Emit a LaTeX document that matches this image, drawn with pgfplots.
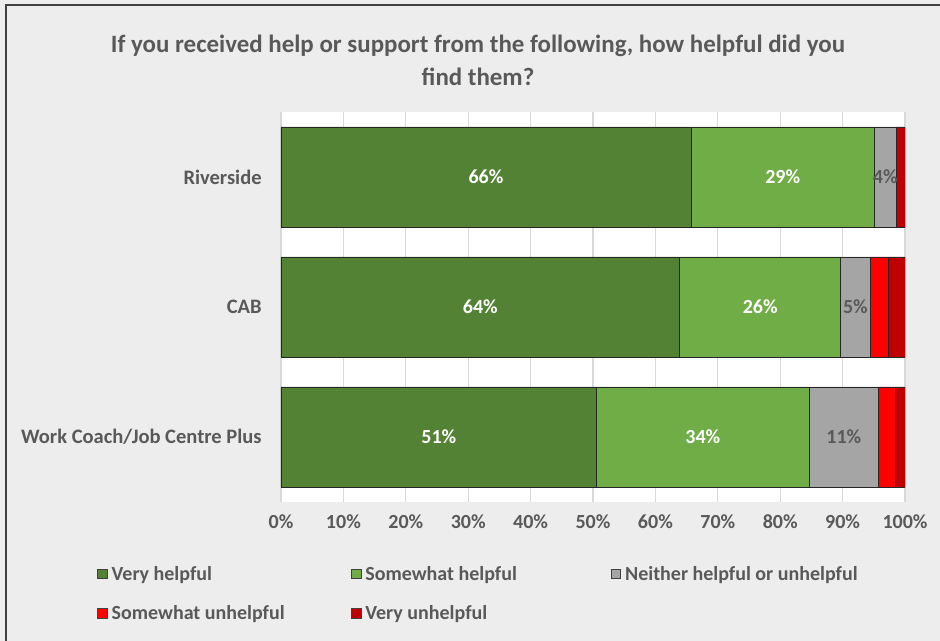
\documentclass[border=0pt]{standalone}
\usepackage{pgfplots}
\pgfplotsset{compat=1.18}
\usepackage{fontspec}
\setmainfont{Carlito}
\definecolor{bg}{HTML}{EDEDED}
\definecolor{txt}{HTML}{595959}
\definecolor{vh}{HTML}{548235}
\definecolor{sh}{HTML}{70AD47}
\definecolor{nh}{HTML}{A5A5A5}
\definecolor{su}{HTML}{FF0000}
\definecolor{vu}{HTML}{C00000}
\begin{document}
\begin{tikzpicture}
\useasboundingbox (0,0) rectangle (705pt,-480.75pt);
\fill[bg] (0,0) rectangle (705pt,-480.75pt);
\draw[line width=1.2pt, black!75] (4.5pt,-480.75pt) -- (4.5pt,-3.75pt) -- (705pt,-3.75pt);
\node[font=\bfseries\fontsize{18.7}{22}\selectfont, text=txt] at (358.5pt,-34.5pt) {If you received help or support from the following, how helpful did you};
\node[font=\bfseries\fontsize{18.7}{22}\selectfont, text=txt] at (358.5pt,-57.5pt) {find them?};
\begin{axis}[
  at={(210.75pt,-84pt)}, anchor=north west,
  scale only axis, width=468pt, height=292.5pt,
  xbar stacked, bar width=0.77,
  xmin=0, xmax=100, ymin=-0.5, ymax=2.5,
  xtick={0,10,...,100},
  xticklabel={\pgfmathprintnumber{\tick}\%},
  ytick={0,1,2},
  yticklabels={Work Coach/Job Centre Plus, CAB, Riverside},
  ticklabel style={font=\bfseries\fontsize{15}{18}\selectfont, text=txt},
  yticklabel style={font=\bfseries\fontsize{15.4}{18}\selectfont, xshift=-11pt},
  xticklabel style={yshift=-6pt},
  /pgf/number format/assume math mode=true,
  major tick length=0pt,
  axis line style={draw=none},
  xmajorgrids, grid style={draw=black!15, line width=0.8pt},
  axis background/.style={fill=white},
  legend columns=3,
  legend cell align=left,
  legend style={at={(-0.3013,-0.1497)}, anchor=north west, draw=none, fill=none,
    font=\bfseries\fontsize{15}{18}\selectfont, text=txt, row sep=13.5pt,
    /tikz/every odd column/.append style={column sep=1pt}},
  legend image code/.code={\draw[#1, draw=black!75, line width=0.6pt] (0pt,-3.6pt) rectangle (7.2pt,3.6pt);},
  every axis plot/.append style={draw=black!85, line width=0.6pt},
  lbl/.style={nodes near coords, point meta=explicit symbolic, nodes near coords align=center,
    every node near coord/.append style={font=\bfseries\fontsize{15}{18}\selectfont, text=#1}},
]
\addplot[fill=vh, lbl=white] coordinates {(50.6,0)[51\%] (63.9,1)[64\%] (65.7,2)[66\%]};
\addlegendentry{\makebox[177.5pt][l]{Very helpful}}
\addplot[fill=sh, lbl=white] coordinates {(34.0,0)[34\%] (25.8,1)[26\%] (29.4,2)[29\%]};
\addlegendentry{\makebox[182pt][l]{Somewhat helpful}}
\addplot[fill=nh, lbl=txt] coordinates {(11.2,0)[11\%] (4.7,1)[5\%] (3.5,2)[4\%]};
\addlegendentry{Neither helpful or unhelpful}
\addplot[fill=su] coordinates {(2.6,0) (3.0,1) (0,2)};
\addlegendentry{\makebox[177.5pt][l]{Somewhat unhelpful}}
\addplot[fill=vu] coordinates {(1.6,0) (2.6,1) (1.4,2)};
\addlegendentry{Very unhelpful}
\end{axis}
\end{tikzpicture}
\end{document}
